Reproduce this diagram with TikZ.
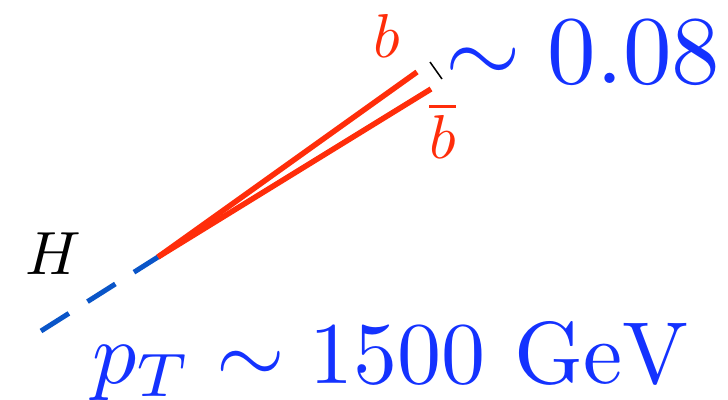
\documentclass[tikz,border=0pt]{standalone}
\definecolor{qred}{RGB}{255,45,10}
\definecolor{qblue}{RGB}{20,50,255}
\definecolor{hblue}{RGB}{10,85,200}
\tikzset{
  lbl/.style={inner sep=0pt, outer sep=0pt},
  jet/.style={draw=qred, line width=5.5pt},
  higgs/.style={draw=hblue, line width=5pt, dash pattern=on 33pt off 22pt},
  tick/.style={draw=black, line width=1.5pt},
}
\begin{document}
\begin{tikzpicture}[x=1pt,y=-1pt]
\useasboundingbox (0,0) rectangle (728,399);
\coordinate (h0) at (41,331);
\coordinate (v) at (158,257);
\coordinate (b1) at (417,72);
\coordinate (b2) at (431,89);
\coordinate (t1) at (430,62);
\coordinate (t2) at (442,79);
\draw[higgs] (h0) -- (v);
\draw[jet] (v) -- (b1);
\draw[jet] (v) -- (b2);
\draw[tick] (t1) -- (t2);
\node[lbl, scale=6.1, anchor=base west] (H) at (25,274) {$H$};
\node[lbl, scale=6.2, anchor=base west, text=qred] (bl) at (373,57) {$b$};
\node[lbl, scale=6.2, anchor=base west, text=qred] (bb) at (429,158) {$\overline{b}$};
\node[lbl, scale=9.7, anchor=base east, text=qblue] (frac) at (720,83) {$\sim 0.08$};
\node[lbl, scale=8.8, anchor=base east, text=qblue] (pt) at (690,383) {$p_T \sim 1500\ \mathrm{GeV}$};
\end{tikzpicture}
\end{document}
